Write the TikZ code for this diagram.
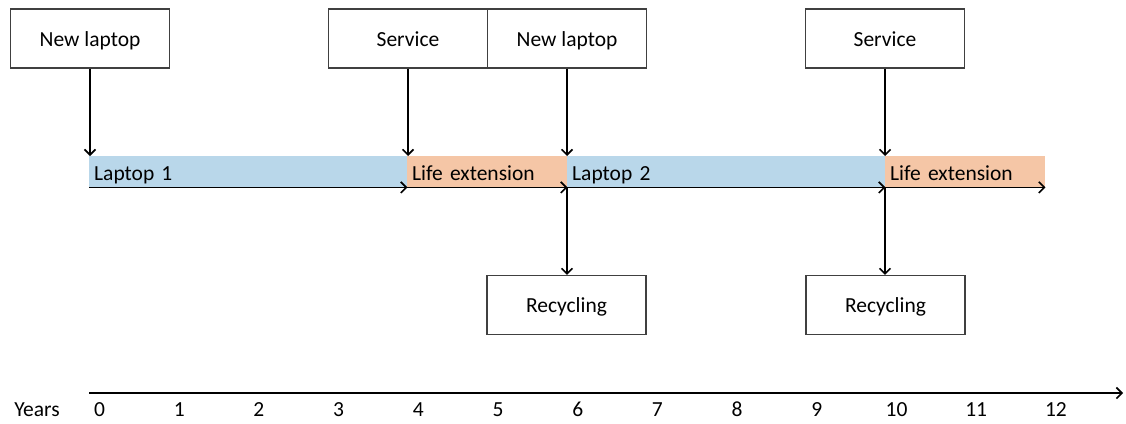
\documentclass[tikz,border=0pt]{standalone}
\usepackage{fontspec}
\setmainfont{Carlito}
\usetikzlibrary{arrows.meta}
\definecolor{barblue}{RGB}{185,215,234}
\definecolor{barorange}{RGB}{245,198,166}
\definecolor{boxline}{RGB}{64,64,64}
\tikzset{
  x=1pt, y=-1pt,
  every node/.style={font=\fontsize{21.5}{24}\selectfont},
  eventbox/.style={draw=boxline, line width=1.1pt, fill=white,
    minimum width=159pt, minimum height=59pt, inner sep=0pt,
    text height=19.5pt, text depth=4.5pt},
  phase/.style={draw=none, inner xsep=5pt, inner ysep=0pt,
    minimum height=31pt, anchor=north west, align=left,
    text height=21.5pt, text depth=4.5pt},
  arr/.style={draw=black, line width=1.7pt,
    -{Straight Barb[length=5.5pt,width=11pt,line width=1.6pt]}},
  tick/.style={anchor=base, inner sep=0pt}
}
\begin{document}
\begin{tikzpicture}
\useasboundingbox (0,0) rectangle (1126,423);

% events above the timeline
\node[eventbox] (new1) at (90,38.5) {New laptop};
\node[eventbox] (serv1) at (408,38.5) {Service};
\node[eventbox] (new2) at (567,38.5) {New laptop};
\node[eventbox] (serv2) at (885,38.5) {Service};

% lifetime phases
\node[phase, fill=barblue, text width=308pt] (lap1) at (89,156) {Laptop 1};
\node[phase, fill=barorange, text width=150pt] (ext1) at (407,156) {Life extension};
\node[phase, fill=barblue, text width=308pt] (lap2) at (567,156) {Laptop 2};
\node[phase, fill=barorange, text width=150pt] (ext2) at (885,156) {Life extension};

% end of life
\node[eventbox] (rec1) at (566.5,305) {Recycling};
\node[eventbox] (rec2) at (885.5,305) {Recycling};

% event arrows
\draw[arr] (new1.south) -- (new1.south |- lap1.north);
\draw[arr] (serv1.south) -- (serv1.south |- ext1.north);
\draw[arr] (new2.south) -- (new2.south |- lap2.north);
\draw[arr] (serv2.south) -- (serv2.south |- ext2.north);

% phase durations
\draw[arr] (lap1.south west) -- (lap1.south east);
\draw[arr] (ext1.south west) -- (ext1.south east);
\draw[arr] (lap2.south west) -- (lap2.south east);
\draw[arr] (ext2.south west) -- (ext2.south east);

% recycling arrows
\draw[arr] (lap2.south west) -- (lap2.south west |- rec1.north);
\draw[arr] (ext2.south west) -- (ext2.south west |- rec2.north);

% years axis
\coordinate (axstart) at (89,393);
\coordinate (axend) at (1123,393);
\draw[arr] (axstart) -- (axend);
\node[tick] (ylab) at (37,416) {Years};
\foreach \i in {0,...,12} {
  \node[tick] (yr\i) at ({99.5+79.7*\i},416) {\i};
}
\end{tikzpicture}
\end{document}
